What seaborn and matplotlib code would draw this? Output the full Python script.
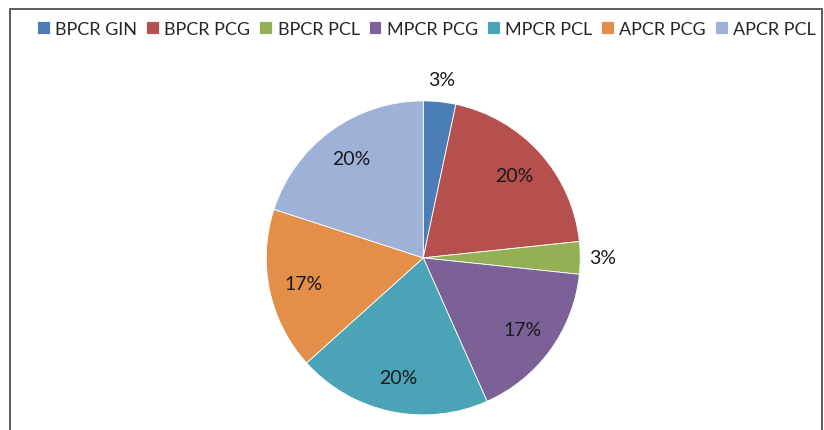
import numpy as np
import matplotlib
matplotlib.use('Agg')
import matplotlib.pyplot as plt
import seaborn as sns
from matplotlib.patches import Rectangle

sns.set_theme(style='white')
plt.rcParams['font.family'] = ['Lato', 'DejaVu Sans']

# dati
categorie = ['BPCR GIN', 'BPCR PCG', 'BPCR PCL', 'MPCR PCG', 'MPCR PCL', 'APCR PCG', 'APCR PCL']
conteggi = [1, 6, 1, 5, 6, 5, 6]
colori = ['#4A7EB4', '#B5504E', '#94B055', '#7B6198', '#4BA3B8', '#E48F49', '#9DB2D6']

fig = plt.figure(figsize=(8.24, 4.31), dpi=100)
ax = fig.add_axes([0.2755, -0.056, 0.4763, 0.9107])

wedges, testi, pct = ax.pie(conteggi, colors=colori, startangle=90, counterclock=False,
                            autopct='%.0f%%', pctdistance=0.78,
                            wedgeprops=dict(linewidth=0.6, edgecolor='white'),
                            textprops=dict(fontsize=14, color='#1a1a1a'))
ax.set_xlim(-1.25, 1.25)
ax.set_ylim(-1.25, 1.25)
ax.set_aspect('equal')

# le fette piccole hanno l'etichetta fuori
for w, t, v in zip(wedges, pct, conteggi):
    if v / sum(conteggi) < 0.05:
        ang = np.deg2rad((w.theta1 + w.theta2) / 2)
        t.set_position((1.14 * np.cos(ang), 1.14 * np.sin(ang)))

fig.legend(wedges, categorie, loc='upper center', bbox_to_anchor=(0.5176, 0.987), ncol=7,
           frameon=False, fontsize=13, handlelength=0.7, handleheight=0.7,
           handletextpad=0.3, columnspacing=0.5)

# cornice
fig.patches.append(Rectangle((10 / 824, -0.1), 812 / 824, (421 / 431) + 0.1,
                             transform=fig.transFigure, fill=False,
                             edgecolor='#404040', linewidth=1.2))

fig.savefig('out.png', dpi=100)
